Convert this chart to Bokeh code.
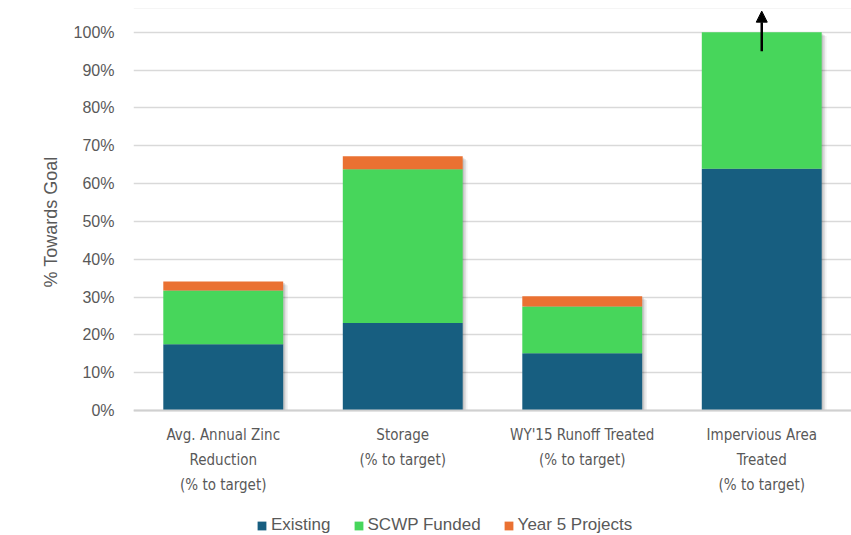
from bokeh.plotting import figure
from bokeh.models import (ColumnDataSource, FixedTicker, PrintfTickFormatter, Legend,
                          LegendItem, Arrow, NormalHead, Span)
from bokeh.embed import file_html
from bokeh.resources import INLINE

# Progress toward each goal, in percent of target
categories = ["Avg. Annual Zinc\nReduction\n(% to target)",
              "Storage\n(% to target)",
              "WY'15 Runoff Treated\n(% to target)",
              "Impervious Area\nTreated\n(% to target)"]
existing = [17.5, 23.1, 15.1, 63.9]
scwp_funded = [14.2, 40.7, 12.4, 36.1]
year5_projects = [2.4, 3.4, 2.7, 0.0]
y_ticks = [0, 10, 20, 30, 40, 50, 60, 70, 80, 90, 100]

series_names = ["Existing", "SCWP Funded", "Year 5 Projects"]
colors = ["#175E80", "#47D65B", "#EA7132"]

x = [i + 1 for i in range(len(categories))]
t1 = list(existing)
t2 = [a + b for a, b in zip(t1, scwp_funded)]
t3 = [a + b for a, b in zip(t2, year5_projects)]

src = ColumnDataSource(dict(x=x, z=[0] * len(x), t1=t1, t2=t2, t3=t3))

GRAY = "#595959"
FONT = "'Liberation Sans', Arial, sans-serif"
NARROW = "'Liberation Sans Narrow', 'DejaVu Sans Condensed', 'Liberation Sans', sans-serif"

# the frame runs to the bottom edge; the space below zero holds category names and legend
p = figure(frame_width=718, frame_height=527, output_backend="svg", toolbar_location=None,
           x_range=(0.5, 4.5), y_range=(-33.07, 106.3),
           min_border_left=133, min_border_right=0, min_border_top=8,
           min_border_bottom=0)
p.outline_line_color = None
p.background_fill_color = "white"
p.border_fill_color = "white"

W = 0.668
# soft drop shadow behind each stack
for k, a in enumerate([0.12, 0.08, 0.05]):
    off = 0.009 + k * 0.009
    p.vbar(x=[v + off for v in x], bottom=[0] * len(x), top=[v - 0.4 - k * 0.3 for v in t3],
           width=W, fill_color="#000000", fill_alpha=a, line_color=None)

r1 = p.vbar(x="x", bottom="z", top="t1", width=W, source=src,
            fill_color=colors[0], line_color=None)
r2 = p.vbar(x="x", bottom="t1", top="t2", width=W, source=src,
            fill_color=colors[1], line_color=None)
r3 = p.vbar(x="x", bottom="t2", top="t3", width=W, source=src,
            fill_color=colors[2], line_color=None)

# arrow above the last bar: progress runs past the target
p.add_layout(Arrow(end=NormalHead(size=11, fill_color="black", line_color="black"),
                   x_start=4, y_start=95, x_end=4, y_end=105.6,
                   line_color="black", line_width=2.5))

p.add_layout(Span(location=106.3, dimension="width", line_color="#EBEBEB", line_width=1))

p.ygrid.grid_line_color = "#D9D9D9"
p.ygrid.grid_line_width = 1.5
p.ygrid.ticker = FixedTicker(ticks=y_ticks)
p.xgrid.grid_line_color = None
p.yaxis.ticker = FixedTicker(ticks=y_ticks)
p.yaxis.formatter = PrintfTickFormatter(format="%d%%")
p.yaxis.axis_line_color = None
p.yaxis.major_tick_line_color = None
p.yaxis.minor_tick_line_color = None
p.yaxis.major_label_text_font = FONT
p.yaxis.major_label_text_font_size = "16px"
p.yaxis.major_label_text_color = GRAY
p.yaxis.major_label_standoff = 13
# leading no-break spaces lift the title toward the middle of the 0-100% span
p.yaxis.axis_label = "\u00a0" * 20 + "% Towards Goal"
p.yaxis.axis_label_text_font = FONT
p.yaxis.axis_label_text_font_size = "18px"
p.yaxis.axis_label_text_font_style = "normal"
p.yaxis.axis_label_text_color = GRAY
p.yaxis.axis_label_standoff = 10

p.xaxis.fixed_location = 0
p.xaxis.ticker = FixedTicker(ticks=x)
p.xaxis.major_label_overrides = {i + 1: c for i, c in enumerate(categories)}
p.xaxis.axis_line_color = "#D0D0D0"
p.xaxis.axis_line_width = 2
p.xaxis.major_tick_line_color = None
p.xaxis.minor_tick_line_color = None
p.xaxis.major_label_text_font = NARROW
p.xaxis.major_label_text_font_size = "15px"
p.xaxis.major_label_text_color = GRAY
p.xaxis.major_label_text_line_height = 1.37
p.xaxis.major_label_standoff = 10

legend = Legend(items=[LegendItem(label=n, renderers=[r]) for n, r in zip(series_names, [r1, r2, r3])],
                orientation="horizontal", location=(123, 0),
                label_text_font=FONT, label_text_font_size="17px", label_text_color=GRAY,
                glyph_width=11, glyph_height=11, spacing=22, label_standoff=4,
                border_line_color=None, background_fill_alpha=0, padding=0, margin=0)
p.add_layout(legend, "center")

open("out.html", "w").write(file_html(p, INLINE))
